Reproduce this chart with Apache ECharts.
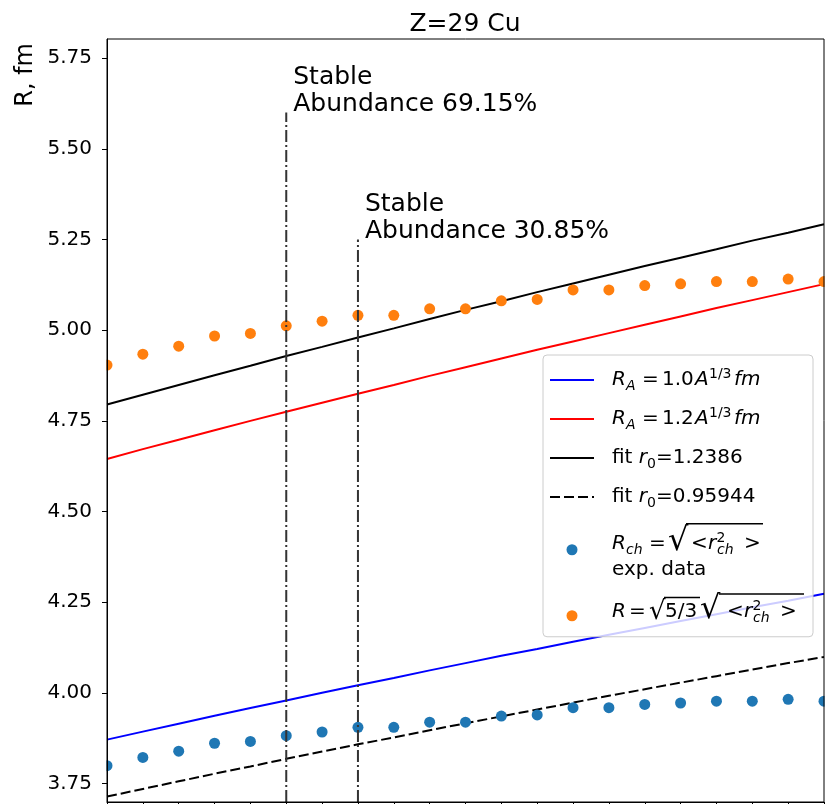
<!DOCTYPE html>
<html><head><meta charset="utf-8">
<script src="https://cdn.jsdelivr.net/npm/echarts@6/dist/echarts.min.js"></script>
<style>html,body{margin:0;padding:0;background:#fff}#c{width:838px;height:804px}</style>
</head><body><div id="c"></div>
<script>
// ---- data ----
const massNumbers = [58,59,60,61,62,63,64,65,66,67,68,69,70,71,72,73,74,75,76,77,78];
const rChargeExp = [3.799,3.822,3.839,3.861,3.866,3.882,3.892,3.905,3.905,3.919,3.919,3.936,3.939,3.959,3.959,3.968,3.972,3.977,3.977,3.982,3.977];
const rSphere = [4.904,4.934,4.956,4.984,4.991,5.012,5.025,5.041,5.041,5.059,5.059,5.081,5.085,5.111,5.111,5.123,5.128,5.134,5.134,5.141,5.134];
const rA10 = [3.871,3.893,3.915,3.937,3.958,3.979,4.000,4.021,4.041,4.062,4.082,4.102,4.121,4.141,4.160,4.179,4.198,4.217,4.236,4.254,4.273];
const rA12 = [4.645,4.672,4.698,4.724,4.750,4.775,4.800,4.825,4.849,4.874,4.898,4.922,4.946,4.969,4.992,5.015,5.038,5.061,5.083,5.105,5.127];
const fitHigh = [4.795,4.822,4.849,4.876,4.902,4.929,4.954,4.980,5.005,5.031,5.056,5.080,5.105,5.129,5.153,5.177,5.200,5.223,5.247,5.269,5.292];
const fitLow = [3.714,3.735,3.756,3.777,3.797,3.818,3.838,3.858,3.877,3.897,3.916,3.935,3.954,3.973,3.992,4.010,4.028,4.046,4.064,4.082,4.099];
const stableA = [63, 65];
const stableTop = [5.6, 5.25];
const stableLabels = ['Stable\nAbundance 69.15%', 'Stable\nAbundance 30.85%'];
const yTicks = [3.75, 4.00, 4.25, 4.50, 4.75, 5.00, 5.25, 5.50, 5.75];
const yMin = 3.699, yMax = 5.803;
const xMin = 58, xMax = 78;

const F = 'DejaVu Sans';
const pairs = arr => massNumbers.map((a, i) => [a, arr[i]]);

// ---- legend rich text ----
const rich = {};
let nTok = 0;
function tk(text, o) {
  const name = 't' + (nTok++);
  const s = {fontFamily: F, fontSize: o.size || 20, color: '#000', lineHeight: o.lh};
  if (o.it) s.fontStyle = 'italic';
  if (o.w != null) s.width = o.w;
  if (o.dy) s.padding = o.dy > 0 ? [2 * o.dy, 0, 0, 0] : [0, 0, -2 * o.dy, 0];
  if (o.bar) { s.backgroundColor = '#000'; s.height = 1.5; s.fontSize = 1; }
  if (o.va) s.verticalAlign = o.va;
  rich[name] = s;
  return '{' + name + '|' + text + '}';
}
const gap = (w, lh) => tk(' ', {w: w, lh: lh, size: 1});
const L = 30;
function rowRA(coef) {
  return tk('R', {it: 1, w: 14, lh: L}) + tk('A', {it: 1, size: 14, dy: 6, w: 11, lh: L}) + gap(5, L) +
    tk('=', {w: 20, lh: L}) + tk(coef, {w: 33, lh: L}) + tk('A', {it: 1, w: 14, lh: L}) +
    tk('1/3', {size: 14, dy: -6, w: 23, lh: L}) + gap(2, L) + tk('fm', {it: 1, w: 28, lh: L});
}
function rowFit(v) {
  return tk('fit ', {lh: L}) + tk('r', {it: 1, lh: L}) + tk('0', {size: 14, dy: 6, lh: L}) + tk('=' + v, {lh: L});
}
function rch(lh) {
  return tk('<', {w: 17, lh: lh}) + tk('r', {it: 1, w: 8.5, lh: lh}) +
    tk('2', {size: 14, dy: -6, w: 0.5, lh: lh}) + tk('ch', {it: 1, size: 14, dy: 6, w: 17, lh: lh}) +
    gap(10, lh) + tk('>', {w: 17, lh: lh});
}
const rowRch =
  gap(74, 13) + tk(' ', {w: 77, lh: 13, bar: 1}) + '\n' +
  tk('R', {it: 1, w: 14, lh: 28}) + tk('ch', {it: 1, size: 14, dy: 6, w: 17, lh: 28}) + gap(6, 28) +
  tk('=', {w: 19, lh: 28}) + tk('√', {size: 32, dy: -3, w: 19, lh: 28}) + gap(4, 28) + rch(28) + '\n' +
  tk('exp. data', {lh: 24});
const rowSph =
  gap(52, 5) + tk(' ', {w: 36, lh: 5, bar: 1, va: 'bottom'}) +
  gap(19, 5) + tk(' ', {w: 85, lh: 5, bar: 1, va: 'top'}) + '\n' +
  tk('R', {it: 1, w: 14, lh: 28}) + gap(3, 28) + tk('=', {w: 20, lh: 28}) +
  tk('√', {size: 26, w: 16, lh: 28}) + tk('5/3', {w: 33, lh: 28}) + gap(2, 28) +
  tk('√', {size: 32, dy: -3, w: 19, lh: 28}) + gap(8, 28) + rch(28) + '\n' +
  gap(1, 12);

const names = ['R_A = 1.0 A^(1/3) fm', 'R_A = 1.2 A^(1/3) fm', 'fit r0=1.2386', 'fit r0=0.95944',
  'R_ch = sqrt(<r_ch^2>) exp. data', 'R = sqrt(5/3) sqrt(<r_ch^2>)'];
const legendText = {};
legendText[names[0]] = rowRA('1.0');
legendText[names[1]] = rowRA('1.2');
legendText[names[2]] = rowFit('1.2386');
legendText[names[3]] = rowFit('0.95944');
legendText[names[4]] = rowRch;
legendText[names[5]] = rowSph;

const chart = echarts.init(document.getElementById('c'), null, {renderer: 'canvas'});
const lineSeries = (name, data, color, type) => ({
  type: 'line', name, data: pairs(data), symbol: 'none', showSymbol: false, silent: true, z: 2,
  lineStyle: {color, width: 2, type: type || 'solid', opacity: 1}, itemStyle: {color}
});
const option = {
  animation: false,
  backgroundColor: '#fff',
  title: {text: 'Z=29 Cu', left: 465, top: 12, textAlign: 'center', padding: 0,
    textStyle: {fontFamily: F, fontSize: 25, fontWeight: 'normal', color: '#000'}},
  grid: {left: 107, right: 14, top: 39, bottom: 2, show: true, borderColor: '#000', borderWidth: 1, z: 10,
    backgroundColor: 'transparent', containLabel: false, outerBoundsMode: 'none'},
  xAxis: {type: 'value', min: xMin, max: xMax, interval: 1, z: 10,
    axisLine: {show: true, lineStyle: {color: '#000', width: 1}},
    axisTick: {show: true, inside: false, length: 6, lineStyle: {color: '#000', width: 1}},
    axisLabel: {show: false}, splitLine: {show: false}},
  yAxis: {type: 'value', min: yMin, max: yMax, z: 10,
    axisLine: {show: true, lineStyle: {color: '#000', width: 1}},
    axisTick: {show: true, inside: false, length: 5, customValues: yTicks, lineStyle: {color: '#000', width: 1}},
    axisLabel: {show: true, customValues: yTicks, margin: 15, fontFamily: F, fontSize: 20, color: '#000',
      formatter: v => v.toFixed(2)},
    splitLine: {show: false}},
  legend: {
    orient: 'vertical', left: 543, top: 355, padding: [12, 9, 4, 6], itemGap: 13, itemWidth: 44, itemHeight: 11,
    backgroundColor: 'rgba(255,255,255,0.8)', borderColor: '#cccccc', borderWidth: 1, borderRadius: 4,
    selectedMode: false,
    data: names.map((n, i) => i < 4 ? {name: n, itemStyle: {opacity: 0}} : {name: n}),
    formatter: n => legendText[n],
    textStyle: {fontFamily: F, fontSize: 20, color: '#000', padding: [0, 0, 0, 13], rich}
  },
  graphic: [
    {type: 'text', x: 26, y: 43, rotation: Math.PI / 2, silent: true,
      style: {text: 'R, fm', fontFamily: F, fontSize: 24, fill: '#000', align: 'right', verticalAlign: 'middle'}},
    // clip markers at the plot edges like the original (axes drawn above these)
    {type: 'rect', silent: true, z: 6, shape: {x: 94, y: 30, width: 12.5, height: 780}, style: {fill: '#fff'}},
    {type: 'rect', silent: true, z: 6, shape: {x: 824.6, y: 30, width: 20, height: 780}, style: {fill: '#fff'}}
  ],
  series: [
    lineSeries(names[0], rA10, '#0000ff'),
    lineSeries(names[1], rA12, '#ff0000'),
    lineSeries(names[2], fitHigh, '#000000'),
    lineSeries(names[3], fitLow, '#000000', [10, 4]),
    {type: 'scatter', name: names[4], data: pairs(rChargeExp), symbol: 'circle', symbolSize: 11, z: 3, silent: true,
      itemStyle: {color: '#1f77b4', opacity: 1}},
    {type: 'scatter', name: names[5], data: pairs(rSphere), symbol: 'circle', symbolSize: 11, z: 3, silent: true,
      itemStyle: {color: '#ff7f0e', opacity: 1}},
    ...stableA.map((a, i) => ({type: 'line', name: 'stable' + a, data: [[a, yMin], [a, stableTop[i]]],
      symbol: 'none', showSymbol: false, silent: true, z: 4,
      lineStyle: {color: '#333', width: 2, type: [12, 3, 2, 3], opacity: 1}})),
    {type: 'scatter', name: 'stable labels', silent: true, z: 5, symbolSize: 1,
      itemStyle: {color: 'rgba(0,0,0,0)', opacity: 1},
      data: stableA.map((a, i) => ({value: [a, stableTop[i]], label: {formatter: stableLabels[i]}})),
      label: {show: true, position: [7.5, 6], align: 'left', verticalAlign: 'bottom',
        fontFamily: F, fontSize: 25, lineHeight: 27, color: '#000', opacity: 1}}
  ]
};
chart.setOption(option);
</script></body></html>
